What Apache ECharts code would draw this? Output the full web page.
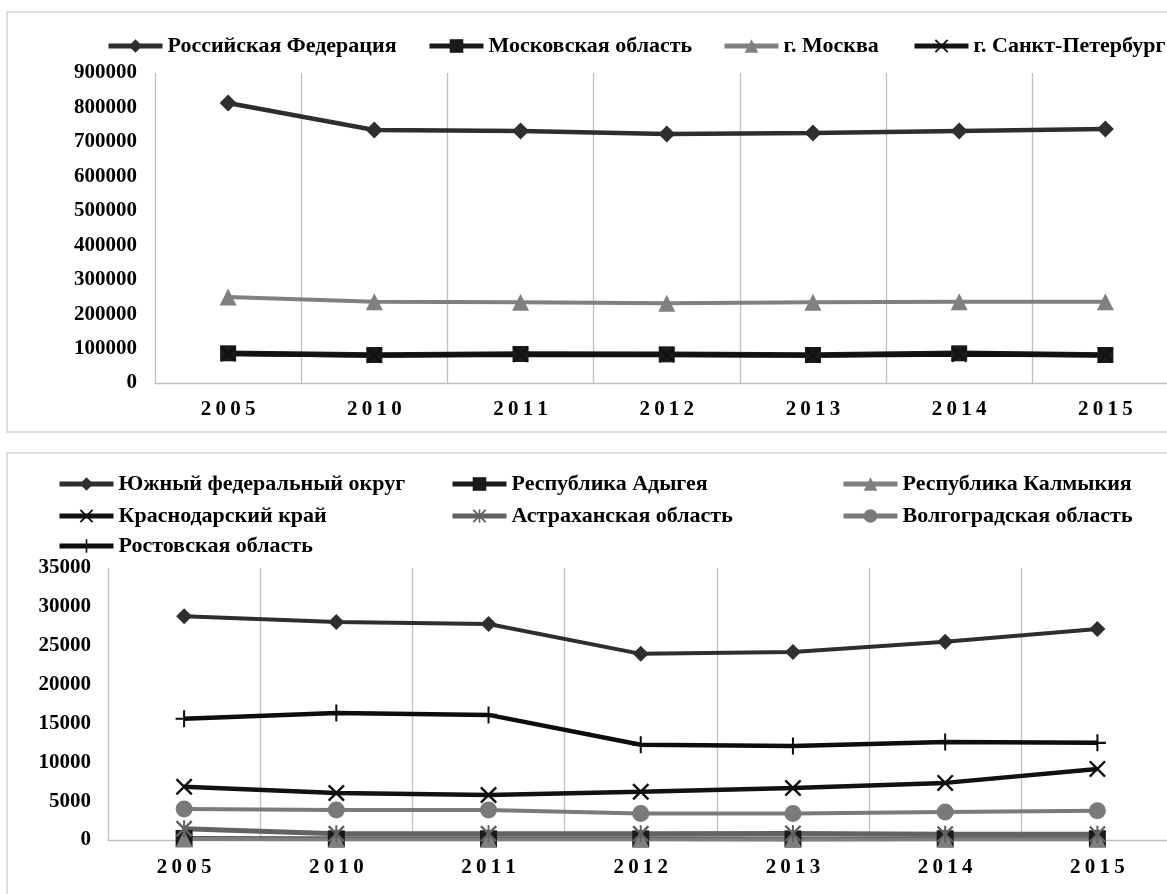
<!DOCTYPE html>
<html>
<head>
<meta charset="utf-8">
<script src="https://cdn.jsdelivr.net/npm/echarts@6/dist/echarts.min.js"></script>
<style>
  html, body { margin: 0; padding: 0; background: #fff; overflow: hidden; }
  #chart { width: 1200px; height: 894px; }
</style>
</head>
<body>
<div id="chart"></div>
<script>
// Years on the horizontal axis (shared by both panels)
const years = ['2005', '2010', '2011', '2012', '2013', '2014', '2015'];

// Upper panel: Russia and the two federal cities
const rfName = 'Российская Федерация';
const rfValues = [813000, 734500, 731700, 723000, 725900, 731700, 737500];
const moRegionName = 'Московская область';
const moRegionValues = [86200, 81300, 84200, 83200, 81300, 86200, 81300];
const moscowName = 'г. Москва';
const moscowValues = [249700, 236000, 234300, 231400, 234300, 236000, 236000];
const spbName = 'г. Санкт-Петербург';
const spbValues = [84000, 79500, 82000, 81500, 80000, 83000, 80500];

// Lower panel: Southern Federal District and its regions
const yfoName = 'Южный федеральный округ';
const yfoValues = [28800, 28050, 27800, 23950, 24200, 25500, 27150];
const adygeaName = 'Республика Адыгея';
const adygeaValues = [200, 150, 160, 150, 140, 160, 170];
const kalmykiaName = 'Республика Калмыкия';
const kalmykiaValues = [120, 100, 100, 90, 90, 100, 100];
const krasnodarName = 'Краснодарский край';
const krasnodarValues = [6850, 6050, 5800, 6200, 6700, 7350, 9150];
const astrakhanName = 'Астраханская область';
const astrakhanValues = [1450, 800, 800, 800, 850, 750, 750];
const volgogradName = 'Волгоградская область';
const volgogradValues = [4000, 3870, 3870, 3400, 3400, 3600, 3750];
const rostovName = 'Ростовская область';
const rostovValues = [15600, 16350, 16100, 12250, 12100, 12600, 12500];

// Custom marker shapes
const SYM_X = 'path://M1,0L5,4L9,0L10,1L6,5L10,9L9,10L5,6L1,10L0,9L4,5L0,1Z';
const SYM_PLUS = 'path://M4.4,0H5.6V4.4H10V5.6H5.6V10H4.4V5.6H0V4.4H4.4Z';
const SYM_STAR = 'path://M1,0L5,4L9,0L10,1L6,5L10,9L9,10L5,6L1,10L0,9L4,5L0,1Z M4.4,0H5.6V10H4.4Z';

const FONT = "'Liberation Serif', 'Times New Roman', serif";
const GRID_COLOR = '#bfbfbf';

// Year labels are drawn letter-spaced
function spaced(v) { return String(v).split('').join('\u2009'); }
// Plain integers, no thousands separator
function plain(v) { return String(v); }

function lineSeries(name, values, idx, color, symbol, symbolSize, width) {
  return {
    type: 'line', name: name, data: values,
    xAxisIndex: idx, yAxisIndex: idx,
    symbol: symbol, symbolSize: symbolSize,
    lineStyle: { color: color, width: width },
    itemStyle: { color: color, borderWidth: 0 },
    emphasis: { disabled: true }
  };
}

function legendAt(name, left, top) {
  return {
    data: [name], left: left, top: top, padding: 0,
    itemWidth: 54, itemHeight: 17, selectedMode: false,
    lineStyle: { width: 5 },
    textStyle: { fontFamily: FONT, fontSize: 22, fontWeight: 'bold', color: '#000' }
  };
}

function catAxis(gridIndex, margin) {
  return {
    type: 'category', gridIndex: gridIndex, data: years, boundaryGap: true,
    axisLine: { show: true, lineStyle: { color: GRID_COLOR, width: 1.3 } },
    axisTick: { show: false },
    splitLine: { show: true, lineStyle: { color: GRID_COLOR, width: 1.3 } },
    axisLabel: { margin: margin, fontFamily: FONT, fontSize: 21, fontWeight: 'bold', color: '#000', formatter: spaced }
  };
}

function valAxis(gridIndex, max, interval, margin) {
  return {
    type: 'value', gridIndex: gridIndex, min: 0, max: max, interval: interval,
    axisLine: { show: false }, axisTick: { show: false }, splitLine: { show: false },
    axisLabel: { margin: margin, fontFamily: FONT, fontSize: 21, fontWeight: 'bold', color: '#000', formatter: plain }
  };
}

const chart = echarts.init(document.getElementById('chart'), null, { renderer: 'canvas' });

chart.setOption({
  animation: false,
  backgroundColor: '#fff',
  graphic: [
    { type: 'rect', shape: { x: 7, y: 12, width: 1230, height: 420 }, style: { fill: 'none', stroke: '#d4d4d4', lineWidth: 1.5 }, silent: true },
    { type: 'rect', shape: { x: 7, y: 453, width: 1230, height: 500 }, style: { fill: 'none', stroke: '#d4d4d4', lineWidth: 1.5 }, silent: true }
  ],
  legend: [
    legendAt(rfName, 106, 35),
    legendAt(moRegionName, 427, 35),
    legendAt(moscowName, 722, 35),
    legendAt(spbName, 912, 35),
    legendAt(yfoName, 57, 473),
    legendAt(adygeaName, 450, 473),
    legendAt(kalmykiaName, 841, 473),
    legendAt(krasnodarName, 57, 505),
    legendAt(astrakhanName, 450, 505),
    legendAt(volgogradName, 841, 505),
    legendAt(rostovName, 57, 535)
  ],
  grid: [
    { left: 155, top: 73, width: 1023.5, height: 310 },
    { left: 108, top: 568, width: 1065.5, height: 272 }
  ],
  xAxis: [catAxis(0, 16), catAxis(1, 17)],
  yAxis: [valAxis(0, 900000, 100000, 18), valAxis(1, 35000, 5000, 17)],
  series: [
    lineSeries(rfName, rfValues, 0, '#2e2e2e', 'diamond', 17, 4.5),
    lineSeries(moRegionName, moRegionValues, 0, '#1a1a1a', 'rect', 16, 5.5),
    lineSeries(moscowName, moscowValues, 0, '#808080', 'triangle', 17, 4),
    lineSeries(spbName, spbValues, 0, '#111111', SYM_X, 16, 4.5),

    lineSeries(yfoName, yfoValues, 1, '#2e2e2e', 'diamond', 16, 4),
    lineSeries(adygeaName, adygeaValues, 1, '#1a1a1a', 'rect', 17, 4.5),
    lineSeries(kalmykiaName, kalmykiaValues, 1, '#7f7f7f', 'triangle', 17, 4),
    lineSeries(krasnodarName, krasnodarValues, 1, '#111111', SYM_X, 17, 4.5),
    lineSeries(astrakhanName, astrakhanValues, 1, '#626262', SYM_STAR, 17, 5),
    lineSeries(volgogradName, volgogradValues, 1, '#7a7a7a', 'circle', 17, 4),
    lineSeries(rostovName, rostovValues, 1, '#0d0d0d', SYM_PLUS, 17, 4.5)
  ]
});
</script>
</body>
</html>
